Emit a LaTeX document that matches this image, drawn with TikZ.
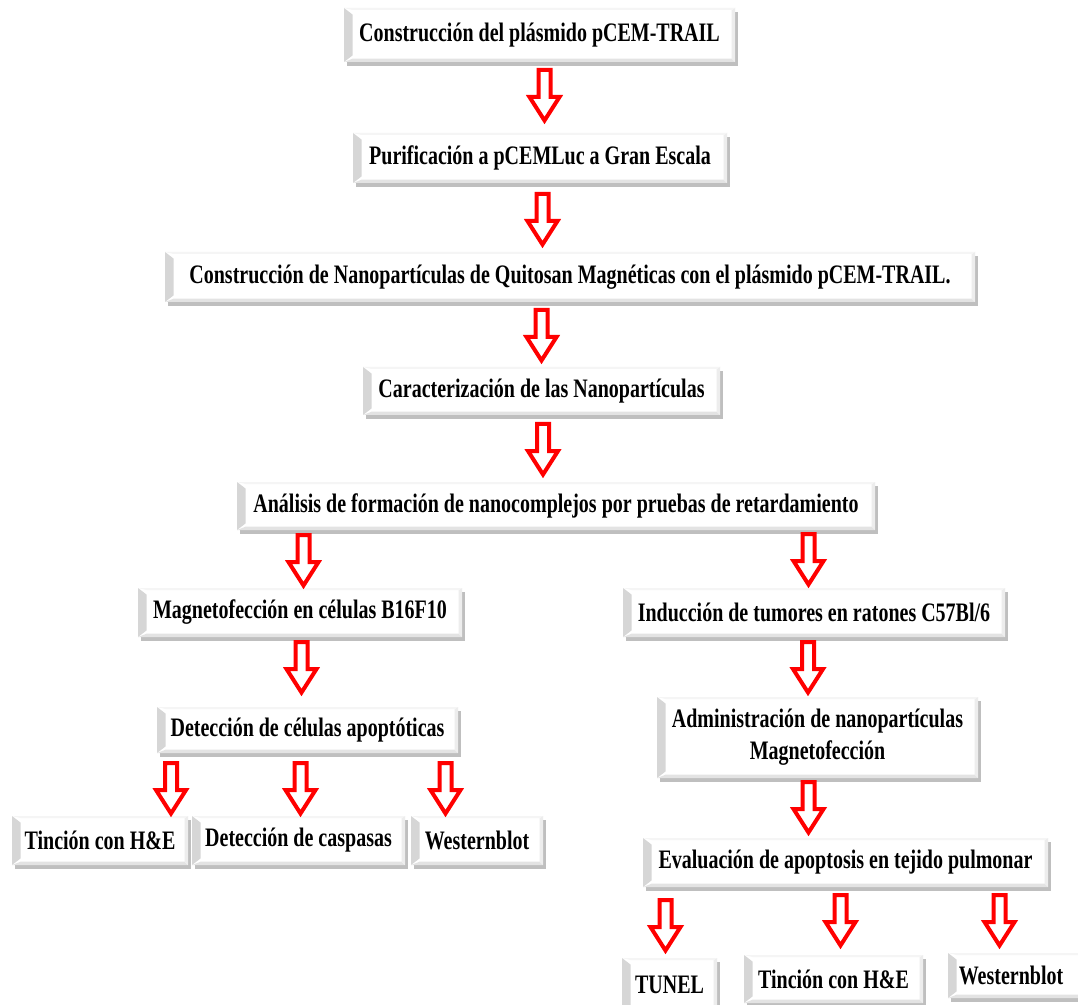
\documentclass[tikz,border=0pt]{standalone}
\usepackage{fontspec}
\setmainfont{Liberation Serif}[FakeStretch=0.75]
\usetikzlibrary{shadows,calc}
\tikzset{
  boxst/.style={fill=white, draw=none, inner sep=0pt, align=center,
    font=\fontsize{20}{24}\selectfont\bfseries,
    drop shadow={shadow xshift=2.5pt, shadow yshift=-3pt, opacity=0.45, fill=black!55},
    path picture={
      \coordinate (pnw) at (path picture bounding box.north west);
      \coordinate (pne) at (path picture bounding box.north east);
      \coordinate (psw) at (path picture bounding box.south west);
      \coordinate (pse) at (path picture bounding box.south east);
      \fill[gray!32] (psw) -- (pnw) -- ($(pnw)+(6.5pt,-5pt)$) -- ($(psw)+(6.5pt,5pt)$) -- cycle;
      \fill[gray!22] (psw) -- (pse) -- ($(pse)+(-2.5pt,2.5pt)$) -- ($(psw)+(6.5pt,2.5pt)$) -- cycle;
      \fill[gray!14] (pse) -- (pne) -- ($(pne)+(-2.5pt,-1.5pt)$) -- ($(pse)+(-2.5pt,2.5pt)$) -- cycle;
      \fill[gray!8] (pnw) -- (pne) -- ($(pne)+(-2.5pt,-1.5pt)$) -- ($(pnw)+(6.5pt,-1.5pt)$) -- cycle;
    }},
  barrow/.pic={\draw[red, line width=3pt, fill=white, miter limit=10]
     (-6,2) -- (6,2) -- (6,29) -- (15,29) -- (0,52.5) -- (-15,29) -- (-6,29) -- cycle;}
}
\newcommand\mkbox[6]{\node[boxst, minimum width={(#4-#2)*0.75pt}, minimum height={(#5-#3)*0.75pt}] (#1) at ({(#2+#4)/2},{(#3+#5)/2}) {#6};}
\begin{document}
\begin{tikzpicture}[x=0.75pt,y=-0.75pt]
\useasboundingbox (0,0) rectangle (1078,1005);
\fill[white] (0,0) rectangle (1078,1005);
% boxes
\mkbox{b1}{344}{8}{735}{62}{Construcción del plásmido pCEM-TRAIL}
\mkbox{b2}{353}{133}{727}{183}{Purificación a pCEMLuc a Gran Escala}
\mkbox{b3}{165}{252}{975}{302}{Construcción de Nanopartículas de Quitosan Magnéticas con el plásmido pCEM-TRAIL.}
\mkbox{b4}{363}{367}{720}{415}{Caracterización de las Nanopartículas}
\mkbox{b5}{237}{482}{875}{530}{Análisis de formación de nanocomplejos por pruebas de retardamiento}
\mkbox{b6}{138}{588}{462}{637}{Magnetofección en células B16F10}
\mkbox{b7}{623}{588}{1005}{637}{Inducción de tumores en ratones C57Bl/6}
\mkbox{b8}{157}{707}{458}{753}{Detección de células apoptóticas}
\mkbox{b9}{657}{697}{978}{778}{Administración de nanopartículas\\Magnetofección}
\mkbox{b10}{12}{816}{188}{865}{Tinción con H\&E}
\mkbox{b11}{192}{816}{405}{865}{Detección de caspasas}
\mkbox{b12}{411}{816}{543}{865}{Westernblot}
\mkbox{b13}{643}{838}{1048}{887}{Evaluación de apoptosis en tejido pulmonar}
\mkbox{b14}{622}{958}{717}{1012}{TUNEL}
\mkbox{b15}{744}{955}{923}{1003}{Tinción con H\&E}
\mkbox{b16}{948}{953}{1090}{998}{\hspace*{-12pt}Westernblot}
% block arrows
\pic (a1) at (544.5,68) {barrow};
\pic (a2) at (542.5,192) {barrow};
\pic (a3) at (541.5,308) {barrow};
\pic (a4) at (543,422) {barrow};
\pic (a5) at (303.5,533) {barrow};
\pic (a6) at (808.5,532) {barrow};
\pic (a7) at (301.5,640) {barrow};
\pic (a8) at (808,640) {barrow};
\pic (a9) at (808.5,780) {barrow};
\pic (a10) at (171,761) {barrow};
\pic (a11) at (300.5,761) {barrow};
\pic (a12) at (445.5,761) {barrow};
\pic (a13) at (665.5,898) {barrow};
\pic (a14) at (840.5,893) {barrow};
\pic (a15) at (999.5,893) {barrow};
\end{tikzpicture}
\end{document}
